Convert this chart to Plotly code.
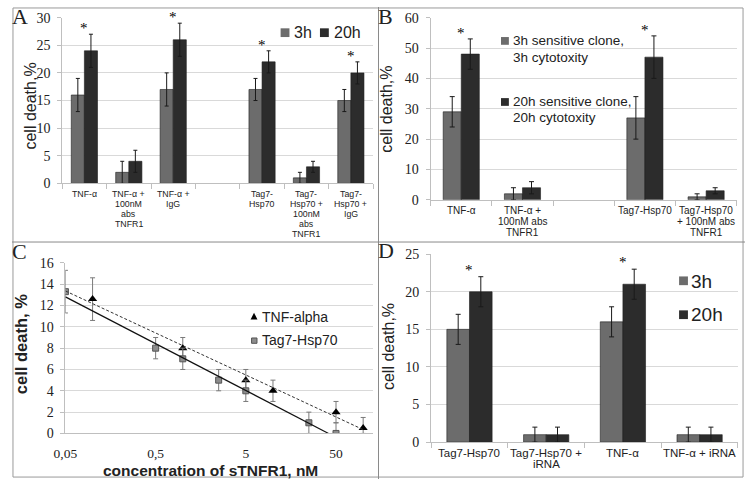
import numpy as np
import plotly.graph_objects as go

W, H = 745, 487


def px(x):
    return x / W


def py(y):
    return 1 - y / H


# ---------------- Panel A ----------------
a_cats = ["TNF-α", "TNF-α + 100nM abs TNFR1", "TNF-α + IgG", " ",
          "Tag7-Hsp70", "Tag7-Hsp70 + 100nM abs TNFR1", "Tag7-Hsp70 + IgG"]
a_labels = [["TNF-α"], ["TNF-α +", "100nM", "abs", "TNFR1"], ["TNF-α +", "IgG"], [],
            ["Tag7-", "Hsp70"], ["Tag7-", "Hsp70 +", "100nM", "abs", "TNFR1"],
            ["Tag7-", "Hsp70 +", "IgG"]]
a_3h = [16, 2, 17, None, 17, 1, 15]
a_3h_err = [3, 2, 3, 0, 2, 1, 2]
a_20h = [24, 4, 26, None, 22, 3, 20]
a_20h_err = [3, 2, 3, 0, 2, 1, 2]
a_sig = [1, 0, 1, 0, 1, 0, 1]
a_yticks = [0, 5, 10, 15, 20, 25, 30]

# ---------------- Panel B ----------------
b_cats = ["TNF-α", "TNF-α + 100nM abs TNFR1", " ", "Tag7-Hsp70",
          "Tag7-Hsp70 + 100nM abs TNFR1"]
b_labels = [["TNF-α"], ["TNF-α +", "100nM abs", "TNFR1"], [], ["Tag7-Hsp70"],
            ["Tag7-Hsp70", "+ 100nM abs", "TNFR1"]]
b_3h = [29, 2, None, 27, 1]
b_3h_err = [5, 2, 0, 7, 1]
b_20h = [48, 4, None, 47, 3]
b_20h_err = [5, 2, 0, 7, 1]
b_sig = [1, 0, 0, 1, 0]
b_yticks = [0, 10, 20, 30, 40, 50, 60]
b_legend = [["3h sensitive clone,", "3h cytotoxity"],
            ["20h sensitive clone,", "20h cytotoxity"]]

# ---------------- Panel C ----------------
c_tnf_x = [0.1, 1, 5, 10, 50, 100]
c_tnf_y = [12.6, 8, 5, 4, 2, 0.5]
c_tnf_err = [2, 1, 1, 1, 1, 1]
c_tag_x = [0.05, 0.5, 1, 2.5, 5, 25, 50]
c_tag_y = [13.3, 8, 7, 5, 4, 1, 0]
c_tag_err = [2, 1, 1, 1, 1, 1, 1]
c_xtickvals = [0.05, 0.5, 5, 50]
c_xticktext = ["0,05", "0,5", "5", "50"]
c_yticks = [0, 2, 4, 6, 8, 10, 12, 14, 16]

# ---------------- Panel D ----------------
d_cats = ["Tag7-Hsp70", "Tag7-Hsp70 + iRNA", "TNF-α", "TNF-α + iRNA"]
d_labels = [["Tag7-Hsp70"], ["Tag7-Hsp70 +", "iRNA"], ["TNF-α"], ["TNF-α + iRNA"]]
d_3h = [15, 1, 16, 1]
d_3h_err = [2, 1, 2, 1]
d_20h = [20, 1, 21, 1]
d_20h_err = [2, 1, 2, 1]
d_sig = [1, 0, 1, 0]
d_yticks = [0, 5, 10, 15, 20, 25]

C3 = "#6c6c6c"
C20 = "#2c2c2c"
GRID = "#d9d9d9"
AXL = "#bfbfbf"
TXT = "#222222"
SERIF = "Liberation Serif"
SANS = "Liberation Sans"

fig = go.Figure()


def add_bars(cats, v3, e3, v20, e20, xa, ya, capw):
    for vals, errs, col, grp in ((v3, e3, C3, "a"), (v20, e20, C20, "b")):
        fig.add_trace(go.Bar(
            x=cats, y=vals, offsetgroup=grp, xaxis=xa, yaxis=ya,
            marker=dict(color=col, line=dict(color="#1e1e1e", width=0.6)),
            error_y=dict(type="data", array=errs, color="#1a1a1a",
                         thickness=1, width=capw),
        ))


add_bars(a_cats, a_3h, a_3h_err, a_20h, a_20h_err, "x", "y", 2)
add_bars(b_cats, b_3h, b_3h_err, b_20h, b_20h_err, "x2", "y2", 2.5)
add_bars(d_cats, d_3h, d_3h_err, d_20h, d_20h_err, "x4", "y4", 2.5)

# Panel C scatter + trend lines
tag_minus = [min(e, v) for e, v in zip(c_tag_err, c_tag_y)]
tnf_minus = [min(e, v) for e, v in zip(c_tnf_err, c_tnf_y)]
fig.add_trace(go.Scatter(
    x=c_tnf_x, y=c_tnf_y, mode="markers", xaxis="x3", yaxis="y3",
    marker=dict(symbol="triangle-up", size=8, color="#000000"),
    error_y=dict(type="data", array=c_tnf_err, arrayminus=tnf_minus,
                 color="#7a7a7a", thickness=1, width=2.5),
))
fig.add_trace(go.Scatter(
    x=c_tag_x, y=c_tag_y, mode="markers", xaxis="x3", yaxis="y3",
    marker=dict(symbol="square", size=6, color="#8c8c8c",
                line=dict(color="#555555", width=1)),
    error_y=dict(type="data", array=c_tag_err, arrayminus=tag_minus,
                 color="#7a7a7a", thickness=1, width=2.5),
))

# log-linear trendlines fitted from the data
lx_all = np.log10(np.array(c_tnf_x + c_tag_x, dtype=float))
x_lo, x_hi = lx_all.min(), lx_all.max()
k1, b1 = np.polyfit(np.log10(c_tnf_x), c_tnf_y, 1)
fx1 = np.array([x_lo, x_hi])
fig.add_trace(go.Scatter(
    x=10 ** fx1, y=k1 * fx1 + b1, mode="lines", xaxis="x3", yaxis="y3",
    line=dict(color="#333333", width=1, dash="3px,2px"),
))
k2, b2 = np.polyfit(np.log10(c_tag_x), c_tag_y, 1)
x_zero = -b2 / k2
fx2 = np.array([x_lo, x_zero])
fig.add_trace(go.Scatter(
    x=10 ** fx2, y=k2 * fx2 + b2, mode="lines", xaxis="x3", yaxis="y3",
    line=dict(color="#111111", width=1.2),
))

ytick_font = dict(family=SERIF, size=14, color=TXT)


def yax(domain, rng, ticks):
    return dict(domain=domain, range=rng, tickvals=ticks, showgrid=True,
                gridcolor=GRID, gridwidth=1, showline=True, linecolor=AXL,
                linewidth=1, ticks="outside", ticklen=4, tickcolor=AXL,
                tickfont=ytick_font, zeroline=False, fixedrange=True,
                ticklabelstandoff=4)


def xcat(domain, anchor):
    return dict(domain=domain, anchor=anchor, type="category", showline=True,
                linecolor=AXL, linewidth=1, ticks="outside", tickson="boundaries",
                ticklen=5, tickcolor=AXL, showticklabels=False, showgrid=False,
                zeroline=False)


fig.update_layout(
    width=W, height=H, margin=dict(l=0, r=0, t=0, b=0, pad=0),
    paper_bgcolor="white", plot_bgcolor="white",
    barmode="group", bargap=0.41, bargroupgap=0, showlegend=False,
    xaxis=xcat([px(51), px(367)], "y"),
    yaxis=yax([py(182), py(11)], [0, 30], a_yticks) | dict(anchor="x"),
    xaxis2=xcat([px(425.5), px(737)], "y2"),
    yaxis2=yax([py(199), py(11)], [0, 60], b_yticks) | dict(anchor="x2"),
    xaxis3=dict(domain=[px(54.3), px(367)], anchor="y3", type="log",
                range=[np.log10(0.05), 2.110], tickvals=c_xtickvals,
                ticktext=c_xticktext, showgrid=False, showline=True,
                linecolor=AXL, ticks="", tickfont=dict(family=SERIF, size=13.5, color=TXT),
                zeroline=False, ticklabelstandoff=7),
    yaxis3=yax([py(440), py(264)], [0, 16], c_yticks) | dict(anchor="x3"),
    xaxis4=xcat([px(426), px(738)], "y4"),
    yaxis4=yax([py(449), py(255)], [0, 25], d_yticks) | dict(anchor="x4"),
)

ann = []
shapes = []


def cat_labels(cats, labels, xref, y0, dy, size):
    for c, lines in zip(cats, labels):
        for i, t in enumerate(lines):
            ann.append(dict(x=c, y=py(y0 + i * dy), xref=xref, yref="paper",
                            text=t, showarrow=False, xanchor="center",
                            yanchor="middle",
                            font=dict(family=SANS, size=size, color=TXT)))


cat_labels(a_cats, a_labels, "x", 193, 10.2, 8.8)
cat_labels(b_cats, b_labels, "x2", 209.5, 11.5, 10)
cat_labels(d_cats, d_labels, "x4", 460, 11.2, 11.5)


def stars(cats, v20, e20, sig, xref, yref, yshift):
    for c, v, e, s in zip(cats, v20, e20, sig):
        if s:
            ann.append(dict(x=c, y=v + e, xref=xref, yref=yref, text="*",
                            showarrow=False, xanchor="center", yanchor="middle",
                            yshift=yshift,
                            font=dict(family=SERIF, size=15, color="#000000")))


stars(a_cats, a_20h, a_20h_err, a_sig, "x", "y", 6)
stars(b_cats, b_20h, b_20h_err, b_sig, "x2", "y2", 6)
stars(d_cats, d_20h, d_20h_err, d_sig, "x4", "y4", 7)


def text(x, y, t, size, family=SANS, bold=False, angle=0, xanchor="center"):
    if bold:
        t = "<b>" + t + "</b>"
    ann.append(dict(x=px(x), y=py(y), xref="paper", yref="paper", text=t,
                    showarrow=False, xanchor=xanchor, yanchor="middle",
                    textangle=angle, font=dict(family=family, size=size, color=TXT)))


def square(x0, y0, s, col):
    shapes.append(dict(type="rect", xref="paper", yref="paper",
                       x0=px(x0), x1=px(x0 + s), y0=py(y0 + s), y1=py(y0),
                       fillcolor=col, line=dict(width=0)))


# panel letters
for L, x, y in (("A", 8, 10), ("B", 380, 10), ("C", 8, 252), ("D", 380, 251)):
    text(x, y, L, 22, family=SERIF)

# y axis titles
text(19, 102, "cell death,%", 16, angle=-90)
text(381, 105, "cell death,%", 16, angle=-90)
text(382, 350, "cell death,%", 16, angle=-90)
text(9, 348, "cell death, %", 16.5, bold=True, angle=-90)
text(202, 478, "concentration of sTNFR1, nM", 15.5, bold=True)

# legend A
square(273, 22, 9, C3)
text(285, 26, "3h", 16, xanchor="left")
square(313, 22, 9, C20)
text(325, 26, "20h", 16, xanchor="left")

# legend B
square(497, 31, 8, C3)
text(507, 35, b_legend[0][0], 13.5, xanchor="left")
text(507, 52, b_legend[0][1], 13.5, xanchor="left")
square(497, 94, 8, C20)
text(507, 97, b_legend[1][0], 13.5, xanchor="left")
text(507, 114, b_legend[1][1], 13.5, xanchor="left")

# legend C
tx, ty, ts = 246, 320, 7
shapes.append(dict(type="path", xref="paper", yref="paper",
                   path=f"M {px(tx - ts / 2)},{py(ty + ts / 2 - 1)} L {px(tx + ts / 2)},{py(ty + ts / 2 - 1)} L {px(tx)},{py(ty - ts / 2 - 1)} Z",
                   fillcolor="#000000", line=dict(width=0)))
text(252, 320, "TNF-alpha", 14, xanchor="left")
shapes.append(dict(type="rect", xref="paper", yref="paper",
                   x0=px(243.5), x1=px(249), y0=py(347), y1=py(341.5),
                   fillcolor="#8c8c8c", line=dict(color="#555555", width=1)))
text(252, 344, "Tag7-Hsp70", 14, xanchor="left")

# legend D
square(678, 278, 9, C3)
text(688, 283, "3h", 19, xanchor="left")
square(678, 313, 9, C20)
text(688, 317, "20h", 19, xanchor="left")

# frame and dividers
FR = "#9a9a9a"
shapes.append(dict(type="rect", xref="paper", yref="paper", x0=px(1), x1=px(743),
                   y0=py(485), y1=py(1), line=dict(color=FR, width=1)))
shapes.append(dict(type="line", xref="paper", yref="paper", x0=px(372.5), x1=px(372.5),
                   y0=0, y1=1, line=dict(color="#8a8a8a", width=1)))
shapes.append(dict(type="line", xref="paper", yref="paper", x0=0, x1=1,
                   y0=py(242.5), y1=py(242.5), line=dict(color="#8a8a8a", width=1)))

fig.update_layout(annotations=ann, shapes=shapes)
fig.write_html("out.html", post_script="document.body.style.margin='0px';",
               config={"displayModeBar": False})
